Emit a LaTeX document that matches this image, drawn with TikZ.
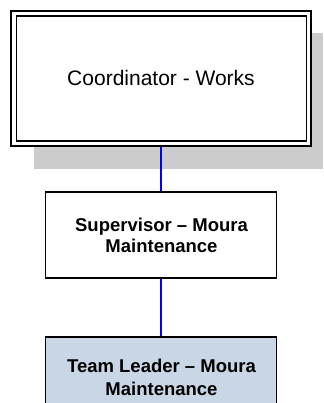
\documentclass[tikz,border=0pt]{standalone}
\usepackage{fontspec}
\setmainfont{Liberation Sans}
\definecolor{shadowgray}{HTML}{CCCCCC}
\definecolor{leaderfill}{HTML}{C9D6E6}
\definecolor{linkblue}{HTML}{0000FF}
\tikzset{
  outerbox/.style={draw=black, line width=2pt, fill=white, minimum width=300pt, minimum height=135pt, inner sep=0pt},
  innerbox/.style={draw=black, line width=1.2pt, minimum width=290pt, minimum height=125pt, inner sep=0pt},
  rolebox/.style={draw=black, line width=1.3pt, minimum width=231pt, minimum height=86pt, inner sep=0pt},
  shadowbox/.style={fill=shadowgray, draw=none, minimum width=289pt, minimum height=136pt, inner sep=0pt},
  label/.style={inner sep=0pt, anchor=base},
  bigtext/.style={font=\fontsize{21}{25}\selectfont},
  boldtext/.style={font=\fontsize{18.5}{21}\selectfont\bfseries},
  link/.style={draw=linkblue, line width=1.5pt}
}
\begin{document}
\begin{tikzpicture}[x=1pt,y=-1pt]
\useasboundingbox (0,0) rectangle (323,403);
\clip (0,0) rectangle (323,403);
\fill[white] (0,0) rectangle (323,403);
% shadow
\node[shadowbox] (shadow) at (178.5,101) {};
% top box
\node[outerbox] (coord) at (161.2,78.5) {};
\node[innerbox] (coordin) at (161.2,78.5) {};
\node[label, bigtext] (coordtext) at (161,85.5) {Coordinator - Works};
% supervisor
\node[rolebox, fill=white] (sup) at (161.2,235) {};
\node[label, boldtext] (suptext1) at (161.5,231.5) {Supervisor – Moura};
\node[label, boldtext] (suptext2) at (161.5,252.5) {Maintenance};
% team leader
\node[rolebox, fill=leaderfill, minimum height=90pt] (lead) at (161.2,382) {};
\node[label, boldtext] (leadtext1) at (161.5,372) {Team Leader – Moura};
\node[label, boldtext] (leadtext2) at (161.5,395.5) {Maintenance};
% connectors
\draw[link] (coord.south) -- (sup.north);
\draw[link] (sup.south) -- (lead.north);
\end{tikzpicture}
\end{document}
